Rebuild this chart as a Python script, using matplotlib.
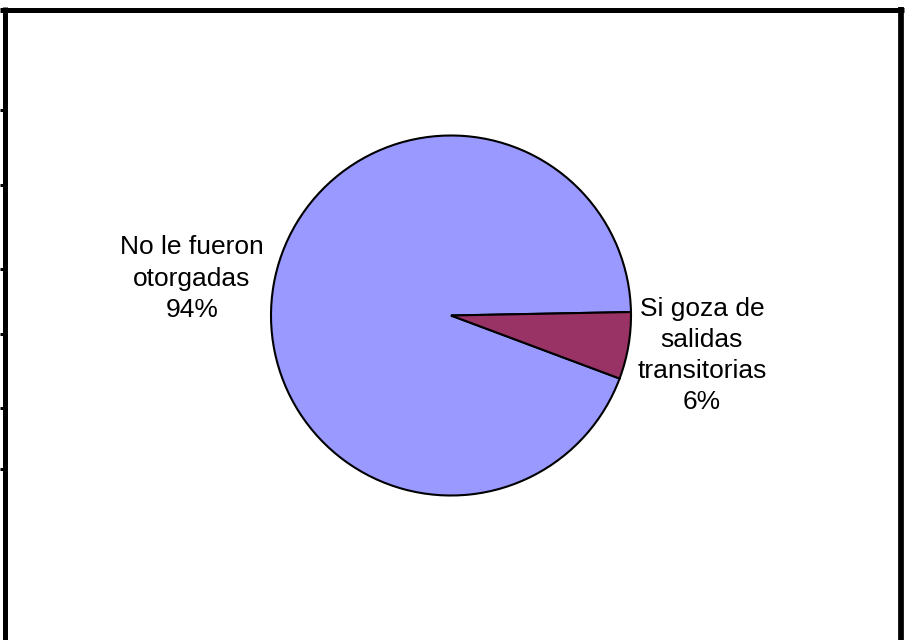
import matplotlib
matplotlib.use("Agg")
import matplotlib.pyplot as plt
from matplotlib.lines import Line2D

# Data
categories = ["No le fueron\notorgadas", "Si goza de\nsalidas\ntransitorias"]
values = [94, 6]
colors = ["#9999FF", "#993366"]

W, H, DPI = 906, 640, 100
fig = plt.figure(figsize=(W / DPI, H / DPI), dpi=DPI)
fig.patch.set_facecolor("white")

# Pie axes: center (451, 315.5) px from top-left, radius 180 px
cx, cy, r = 451, 315.5, 180
ax = fig.add_axes([(cx - r) / W, (H - cy - r) / H, 2 * r / W, 2 * r / H])
labels = [f"{c}\n{v}%" for c, v in zip(categories, values)]
wedges, texts = ax.pie(values, colors=colors, labels=labels, startangle=1.1,
                       counterclock=True, labeldistance=1.425,
                       wedgeprops=dict(edgecolor="black", linewidth=1.5),
                       textprops=dict(fontsize=19, family="Liberation Sans",
                                      color="black", linespacing=1.38))
label_pos = [(-1.44, 0.205), (1.394, -0.222)]
for t, p in zip(texts, label_pos):
    t.set_position(p)
    t.set_ha("center")
    t.set_va("center")
    t.set_clip_on(False)
ax.set_xlim(-1, 1)
ax.set_ylim(-1, 1)
ax.set_aspect("equal")
ax.axis("off")

# Frame decoration (pixel coordinates, y from top)
def pline(x0, y0, x1, y1, lw):
    fig.add_artist(Line2D([x0 / W, x1 / W], [1 - y0 / H, 1 - y1 / H],
                          transform=fig.transFigure, color="black",
                          linewidth=lw, solid_capstyle="butt"))

lw = 5 * 72 / DPI
pline(0, 9.7, 904, 9.7, lw)
pline(4.7, 7.3, 4.7, 640, lw)
pline(901, 7.3, 901, 640, lw * 1.15)
for ty in [110, 184.5, 268.5, 334, 408, 469]:
    pline(0, ty, 4, ty, 3 * 72 / DPI)

fig.savefig("out.png", dpi=DPI, facecolor="white")
